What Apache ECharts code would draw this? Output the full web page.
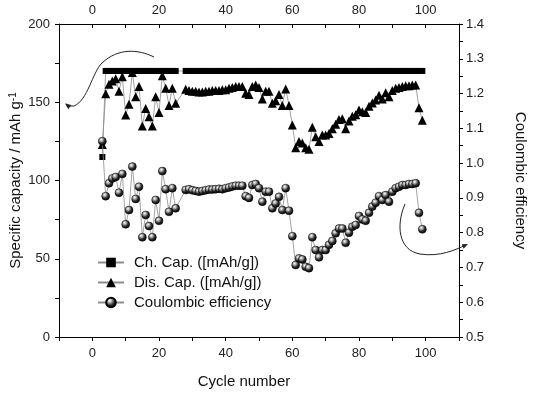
<!DOCTYPE html>
<html><head><meta charset="utf-8">
<script src="https://cdn.jsdelivr.net/npm/echarts@6/dist/echarts.min.js"></script>
<style>html,body{margin:0;padding:0;background:#fff}#c{width:550px;height:395px}</style>
</head><body><div id="c"></div>
<script>
// ---- data ----
const cycles = [3,4,5,6,7,8,9,10,11,12,13,14,15,16,17,18,19,20,21,22,23,24,25,
  28,29,30,31,32,33,34,35,36,37,38,39,40,41,42,43,44,45,
  46,47,48,49,50,51,52,53,54,55,56,57,58,59,
  60,61,62,63,64,65,66,67,68,69,70,71,
  72,73,74,75,76,77,78,79,80,81,82,83,84,85,86,87,88,89,90,91,92,93,94,95,96,97,98,99];
const chargeCap = [115,170,170,170,170,170,170,170,170,170,170,170,170,170,170,170,170,170,170,170,170,170,170,
  170,170,170,170,170,170,170,170,170,170,170,170,170,170,170,170,170,170,
  170,170,170,170,170,170,170,170,170,170,170,170,170,170,
  170,170,170,170,170,170,170,170,170,170,170,170,
  170,170,170,170,170,170,170,170,170,170,170,170,170,170,170,170,170,170,170,170,170,170,170,170,170,170,170,170];
const dischargeCap = [123,155.5,161.5,163.5,165,157,166.3,141.8,148.7,169,153.5,160,134.8,146,140.8,134.8,153.5,143.5,167,159,148,159,149.3,
  158.3,157.5,157,157,156.5,156.5,157,157,157.5,157.5,157.5,158,158,159,159.5,160,160,160,
  155.7,155,160,161,159.5,152,157,157,149.3,151,155,148,158.5,148,
  135.5,121,125,124,121,120,134,128,125,129,129,130,
  133,136,139,139.5,133,138,141,142,145,144,143.5,147.5,149.5,151.5,154.5,152,156,153.5,157.5,159,159.5,160,160.5,160.5,161,161,146.5,138.5];
const coulombicEff = [1.063,0.905,0.942,0.956,0.96,0.915,0.969,0.824,0.865,0.99,0.897,0.932,0.787,0.851,0.819,0.787,0.894,0.834,0.977,0.925,0.86,0.928,0.87,
  0.923,0.925,0.922,0.92,0.918,0.92,0.922,0.924,0.924,0.925,0.926,0.925,0.928,0.93,0.933,0.935,0.935,0.935,
  0.905,0.90,0.937,0.94,0.928,0.889,0.918,0.918,0.870,0.884,0.903,0.865,0.928,0.863,
  0.79,0.707,0.726,0.723,0.702,0.698,0.787,0.75,0.729,0.75,0.75,0.765,
  0.776,0.798,0.812,0.812,0.771,0.80,0.817,0.822,0.848,0.838,0.834,0.857,0.875,0.886,0.905,0.894,0.908,0.889,0.918,0.928,0.932,0.937,0.937,0.94,0.94,0.942,0.857,0.81];
const seriesNames = ['Ch. Cap. ([mAh/g])', 'Dis. Cap. ([mAh/g])', 'Coulombic efficiency'];
const xTickLabels = [0,20,40,60,80,100];
const leftTickLabels = [0,50,100,150,200];
const rightTickLabels = [0.5,0.6,0.7,0.8,0.9,1.0,1.1,1.2,1.3,1.4];
// annotation arrows, in (cycle, capacity) data units: bezier segments [start, cp1, cp2, end]
const arrowLeftSegs = [
  [[18.5,178.9],[13.7,184.0],[7.7,184.7],[2.9,175.1]],
  [[2.9,175.1],[-0.1,168.7],[-1.3,151.4],[-5.5,147.6]],
  [[-5.5,147.6],[-6.7,147.0],null,[-7.9,148.9]]
];
const arrowLeftHead = [[-8.2,149.2],[-6.3,148.2],[-7.2,145.6]];
const arrowRightSegs = [
  [[93.8,85.0],[91.1,71.6],[91.7,55.6],[98.3,53.0]],
  [[98.3,53.0],[104.3,51.1],[108.8,55.6],[112.1,58.8]]
];
const arrowRightHead = [[112.7,59.4],[111.4,56.4],[110.8,59.3]];

const FONT = '"Liberation Sans", Arial, sans-serif';
const pair = (xs, ys) => xs.map((x, i) => [x, ys[i]]);
const near = (v, list) => list.some(t => Math.abs(t - v) < 1e-6);

const chart = echarts.init(document.getElementById('c'), null, {renderer: 'canvas'});
const lineStyle = {color: '#8c8c8c', width: 0.8};
const sphere = {
  type: 'radial', x: 0.38, y: 0.33, r: 0.7,
  colorStops: [{offset: 0, color: '#ffffff'}, {offset: 0.25, color: '#b0b0b0'}, {offset: 0.6, color: '#2a2a2a'}, {offset: 1, color: '#000000'}]
};
const axisCommon = {
  min: -10, max: 110, interval: 10,
  axisLine: {show: true, onZero: false, lineStyle: {color: '#000', width: 1}},
  splitLine: {show: false},
};
const option = {
  animation: false,
  backgroundColor: '#fff',
  textStyle: {fontFamily: FONT},
  grid: {left: 59, right: 91, top: 24, bottom: 58, containLabel: false, outerBoundsMode: 'none'},
  legend: {
    orient: 'vertical', left: 97, top: 255, padding: 0,
    itemWidth: 26, itemHeight: 12, itemGap: 5,
    data: seriesNames,
    textStyle: {fontFamily: FONT, fontSize: 15, color: '#111', padding: [0, 0, 0, 5]}
  },
  xAxis: [
    Object.assign({}, axisCommon, {
      type: 'value', position: 'bottom',
      axisTick: {show: true, inside: false, length: 4, lineStyle: {color: '#000'}},
      axisLabel: {show: true, margin: 10, fontSize: 13, color: '#222', fontFamily: FONT,
        formatter: v => near(v, xTickLabels) ? String(Math.round(v)) : ''},
      name: 'Cycle number', nameLocation: 'middle', nameGap: 37,
      nameTextStyle: {fontSize: 15, color: '#111', fontFamily: FONT, padding: [0, 30, 0, 0]}
    }),
    Object.assign({}, axisCommon, {
      type: 'value', position: 'top',
      axisTick: {show: true, inside: true, length: 4, lineStyle: {color: '#000'}},
      axisLabel: {show: true, margin: 7, fontSize: 13, color: '#222', fontFamily: FONT,
        formatter: v => near(v, xTickLabels) ? String(Math.round(v)) : ''}
    })
  ],
  yAxis: [
    {
      type: 'value', position: 'left', min: 0, max: 200, interval: 25,
      axisLine: {show: true, onZero: false, lineStyle: {color: '#000', width: 1}},
      axisTick: {show: true, inside: false, length: 4, lineStyle: {color: '#000'}},
      splitLine: {show: false},
      axisLabel: {margin: 9, fontSize: 13, color: '#222', fontFamily: FONT,
        formatter: v => near(v, leftTickLabels) ? String(Math.round(v)) : ''},
      name: 'Specific capacity / mAh g{sup|-1}', nameLocation: 'middle', nameRotate: 90, nameGap: 35,
      nameMoveOverlap: false,
      nameTextStyle: {fontSize: 15, color: '#111', fontFamily: FONT,
        rich: {sup: {fontSize: 10, color: '#111', fontFamily: FONT, verticalAlign: 'top', padding: [0, 0, 6, 0]}}}
    },
    {
      type: 'value', position: 'right', min: 0.5, max: 1.4, interval: 0.05,
      axisLine: {show: true, onZero: false, lineStyle: {color: '#000', width: 1}},
      axisTick: {show: true, inside: false, length: 4, lineStyle: {color: '#000'}},
      splitLine: {show: false},
      axisLabel: {margin: 7, fontSize: 13, color: '#222', fontFamily: FONT,
        formatter: v => near(v, rightTickLabels) ? v.toFixed(1) : ''},
      name: 'Coulombic efficiency', nameLocation: 'middle', nameRotate: -90, nameGap: 54,
      nameTextStyle: {fontSize: 15, color: '#111', fontFamily: FONT}
    }
  ],
  series: [
    {name: seriesNames[0], type: 'line', xAxisIndex: 0, yAxisIndex: 0, data: pair(cycles, chargeCap),
      symbol: 'rect', symbolSize: 6, itemStyle: {color: '#000'}, lineStyle: lineStyle, z: 2},
    {name: seriesNames[1], type: 'line', xAxisIndex: 0, yAxisIndex: 0, data: pair(cycles, dischargeCap),
      symbol: 'triangle', symbolSize: 9, itemStyle: {color: '#000'}, lineStyle: lineStyle, z: 3},
    {name: seriesNames[2], type: 'line', xAxisIndex: 0, yAxisIndex: 1, data: pair(cycles, coulombicEff),
      symbol: 'circle', symbolSize: 8, itemStyle: {color: sphere, borderColor: '#000', borderWidth: 0.5}, lineStyle: lineStyle, z: 4}
  ]
};
chart.setOption(option);

function toPx(p) { return chart.convertToPixel({xAxisIndex: 0, yAxisIndex: 0}, p); }
function segGraphic(seg) {
  const a = toPx(seg[0]), c1 = toPx(seg[1]), b = toPx(seg[3]);
  const shape = {x1: a[0], y1: a[1], x2: b[0], y2: b[1], cpx1: c1[0], cpy1: c1[1]};
  if (seg[2]) { const c2 = toPx(seg[2]); shape.cpx2 = c2[0]; shape.cpy2 = c2[1]; }
  return {type: 'bezierCurve', shape: shape, style: {fill: null, stroke: '#222', lineWidth: 1}, z: 10};
}
const graphics = [];
arrowLeftSegs.forEach(s => graphics.push(segGraphic(s)));
arrowRightSegs.forEach(s => graphics.push(segGraphic(s)));
graphics.push({type: 'polygon', shape: {points: arrowLeftHead.map(toPx)}, style: {fill: '#222'}, z: 10});
graphics.push({type: 'polygon', shape: {points: arrowRightHead.map(toPx)}, style: {fill: '#222'}, z: 10});
chart.setOption({graphic: graphics});
</script>
</body></html>
